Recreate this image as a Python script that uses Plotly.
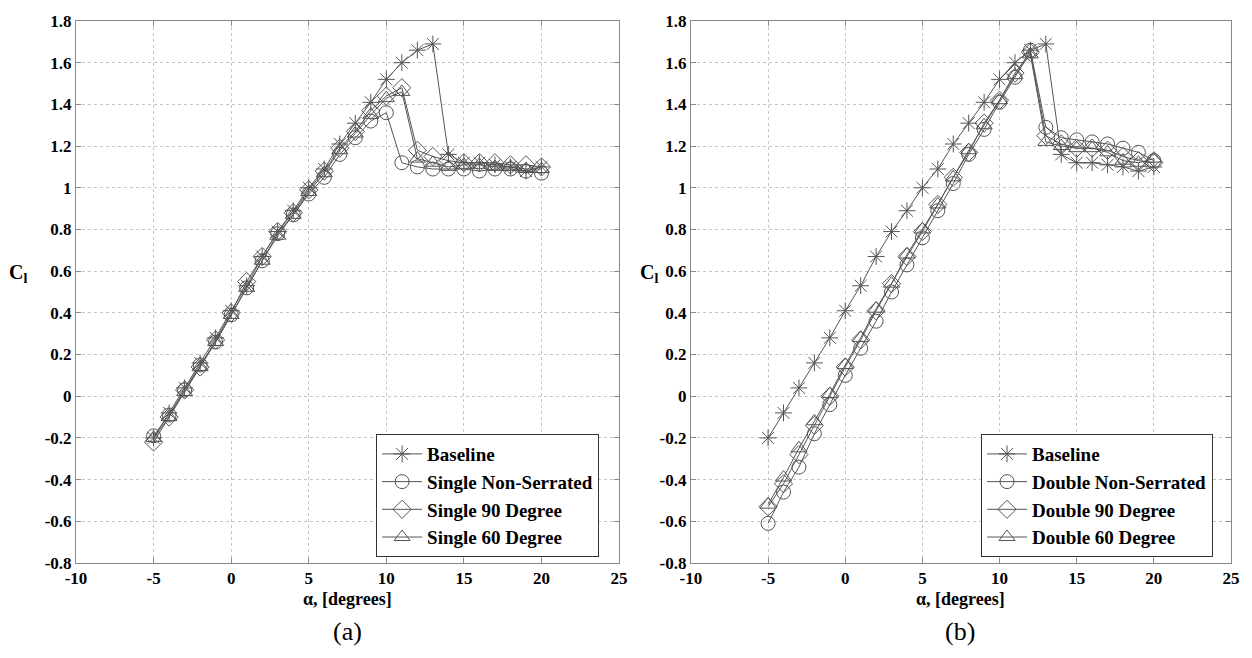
import plotly.graph_objects as go

alpha = list(range(-5, 21))

baseline = [-0.20, -0.08, 0.04, 0.16, 0.28, 0.41, 0.53, 0.67, 0.79, 0.89, 1.00, 1.09, 1.21,
            1.31, 1.41, 1.52, 1.60, 1.66, 1.69, 1.16, 1.12, 1.12, 1.11, 1.10, 1.08, 1.10]

single_nonserrated = [-0.19, -0.09, 0.03, 0.15, 0.26, 0.39, 0.52, 0.65, 0.78, 0.87, 0.97, 1.05, 1.16,
                      1.24, 1.32, 1.36, 1.12, 1.10, 1.09, 1.09, 1.09, 1.08, 1.09, 1.09, 1.08, 1.07]
single_90 = [-0.22, -0.10, 0.03, 0.14, 0.27, 0.40, 0.55, 0.67, 0.79, 0.88, 0.99, 1.08, 1.19,
             1.27, 1.37, 1.44, 1.48, 1.18, 1.15, 1.13, 1.12, 1.12, 1.12, 1.11, 1.11, 1.10]
single_60 = [-0.20, -0.10, 0.02, 0.14, 0.26, 0.39, 0.52, 0.65, 0.77, 0.87, 0.98, 1.07, 1.18,
             1.26, 1.35, 1.43, 1.46, 1.14, 1.12, 1.10, 1.11, 1.11, 1.10, 1.10, 1.09, 1.09]

double_nonserrated = [-0.61, -0.46, -0.34, -0.18, -0.04, 0.10, 0.23, 0.36, 0.50, 0.63, 0.76, 0.89, 1.02,
                      1.16, 1.28, 1.41, 1.53, 1.66, 1.29, 1.24, 1.23, 1.22, 1.21, 1.19, 1.17, 1.13]
double_90 = [-0.53, -0.42, -0.28, -0.14, 0.00, 0.14, 0.27, 0.41, 0.54, 0.67, 0.79, 0.92, 1.05,
             1.17, 1.31, 1.42, 1.55, 1.65, 1.25, 1.21, 1.19, 1.19, 1.18, 1.15, 1.13, 1.12]
double_60 = [-0.52, -0.39, -0.25, -0.12, 0.01, 0.15, 0.28, 0.42, 0.54, 0.68, 0.80, 0.92, 1.05,
             1.18, 1.30, 1.42, 1.54, 1.64, 1.22, 1.20, 1.19, 1.19, 1.17, 1.13, 1.12, 1.14]

x_ticks = [-10, -5, 0, 5, 10, 15, 20, 25]
x_tick_labels = ["-10", "-5", "0", "5", "10", "15", "20", "25"]
y_ticks = [-0.8, -0.6, -0.4, -0.2, 0, 0.2, 0.4, 0.6, 0.8, 1, 1.2, 1.4, 1.6, 1.8]
y_tick_labels = ["-0.8", "-0.6", "-0.4", "-0.2", "0", "0.2", "0.4", "0.6", "0.8", "1", "1.2", "1.4", "1.6", "1.8"]

names_a = ["Baseline", "Single Non-Serrated", "Single 90 Degree", "Single 60 Degree"]
names_b = ["Baseline", "Double Non-Serrated", "Double 90 Degree", "Double 60 Degree"]
symbols = ["asterisk-open", "circle-open", "diamond-open", "triangle-up-open"]

LC = "#555555"
SERIF = "Liberation Serif, Times New Roman, serif"

fig = go.Figure()
for name, ys, sym in zip(names_a, [baseline, single_nonserrated, single_90, single_60], symbols):
    fig.add_trace(go.Scatter(x=alpha, y=ys, name=name, mode="lines+markers",
                             line=dict(color=LC, width=1),
                             marker=dict(symbol=sym, size=14, color=LC, line=dict(color=LC, width=1)),
                             xaxis="x", yaxis="y", legend="legend"))
for name, ys, sym in zip(names_b, [baseline, double_nonserrated, double_90, double_60], symbols):
    fig.add_trace(go.Scatter(x=alpha, y=ys, name=name, mode="lines+markers",
                             line=dict(color=LC, width=1),
                             marker=dict(symbol=sym, size=14, color=LC, line=dict(color=LC, width=1)),
                             xaxis="x2", yaxis="y2", legend="legend2"))

L, R, T, B = 76, 19, 15, 95
W, H = 1252, 658
pw = W - L - R
ph = H - T - B
d1 = [0, (620 - L) / pw]
d2 = [(692 - L) / pw, 1]

tickfont = dict(family=SERIF, size=17, color="black", weight="bold")
axcommon = dict(showline=True, linecolor="#888888", linewidth=1, mirror="ticks",
                ticks="inside", ticklen=5, tickcolor="#888888",
                showgrid=True, gridcolor="#c4c4c4", griddash="dot", gridwidth=1,
                zeroline=False, tickfont=tickfont)

legfont = dict(family=SERIF, size=19, color="black", weight="bold")

fig.update_layout(
    width=W, height=H,
    margin=dict(l=L, r=R, t=T, b=B),
    paper_bgcolor="white", plot_bgcolor="white",
    font=dict(family=SERIF),
    xaxis=dict(domain=d1, range=[-10, 25], tickvals=x_ticks, ticktext=x_tick_labels, anchor="y", **axcommon),
    yaxis=dict(range=[-0.8, 1.8], tickvals=y_ticks, ticktext=y_tick_labels, anchor="x", **axcommon),
    xaxis2=dict(domain=d2, range=[-10, 25], tickvals=x_ticks, ticktext=x_tick_labels, anchor="y2", **axcommon),
    yaxis2=dict(range=[-0.8, 1.8], tickvals=y_ticks, ticktext=y_tick_labels, anchor="x2", **axcommon),
    legend=dict(x=(600 - L) / pw, y=(563 - 557) / ph, xanchor="right", yanchor="bottom",
                bgcolor="white", bordercolor="#333333", borderwidth=1,
                font=legfont, tracegroupgap=0, itemwidth=40),
    legend2=dict(x=1 - (1233 - 1215) / pw, y=(563 - 557) / ph, xanchor="right", yanchor="bottom",
                 bgcolor="white", bordercolor="#333333", borderwidth=1,
                 font=legfont, tracegroupgap=0, itemwidth=40),
    showlegend=True,
)


def ann_px(text, px, py, size, bold=True):
    fig.add_annotation(text=text, x=(px - L) / pw, y=(H - B - py) / ph,
                       xref="paper", yref="paper", showarrow=False,
                       xanchor="center", yanchor="middle",
                       font=dict(family=SERIF, size=size, color="black", weight="bold" if bold else "normal"))


ann_px("C<sub>l</sub>", 18, 270, 20)
ann_px("C<sub>l</sub>", 650, 270, 20)
ann_px("α, [degrees]", 348, 599, 18)
ann_px("α, [degrees]", 962, 599, 18)
ann_px("(a)", 348, 632, 26, bold=False)
ann_px("(b)", 962, 632, 26, bold=False)

fig.write_html("out.html")
